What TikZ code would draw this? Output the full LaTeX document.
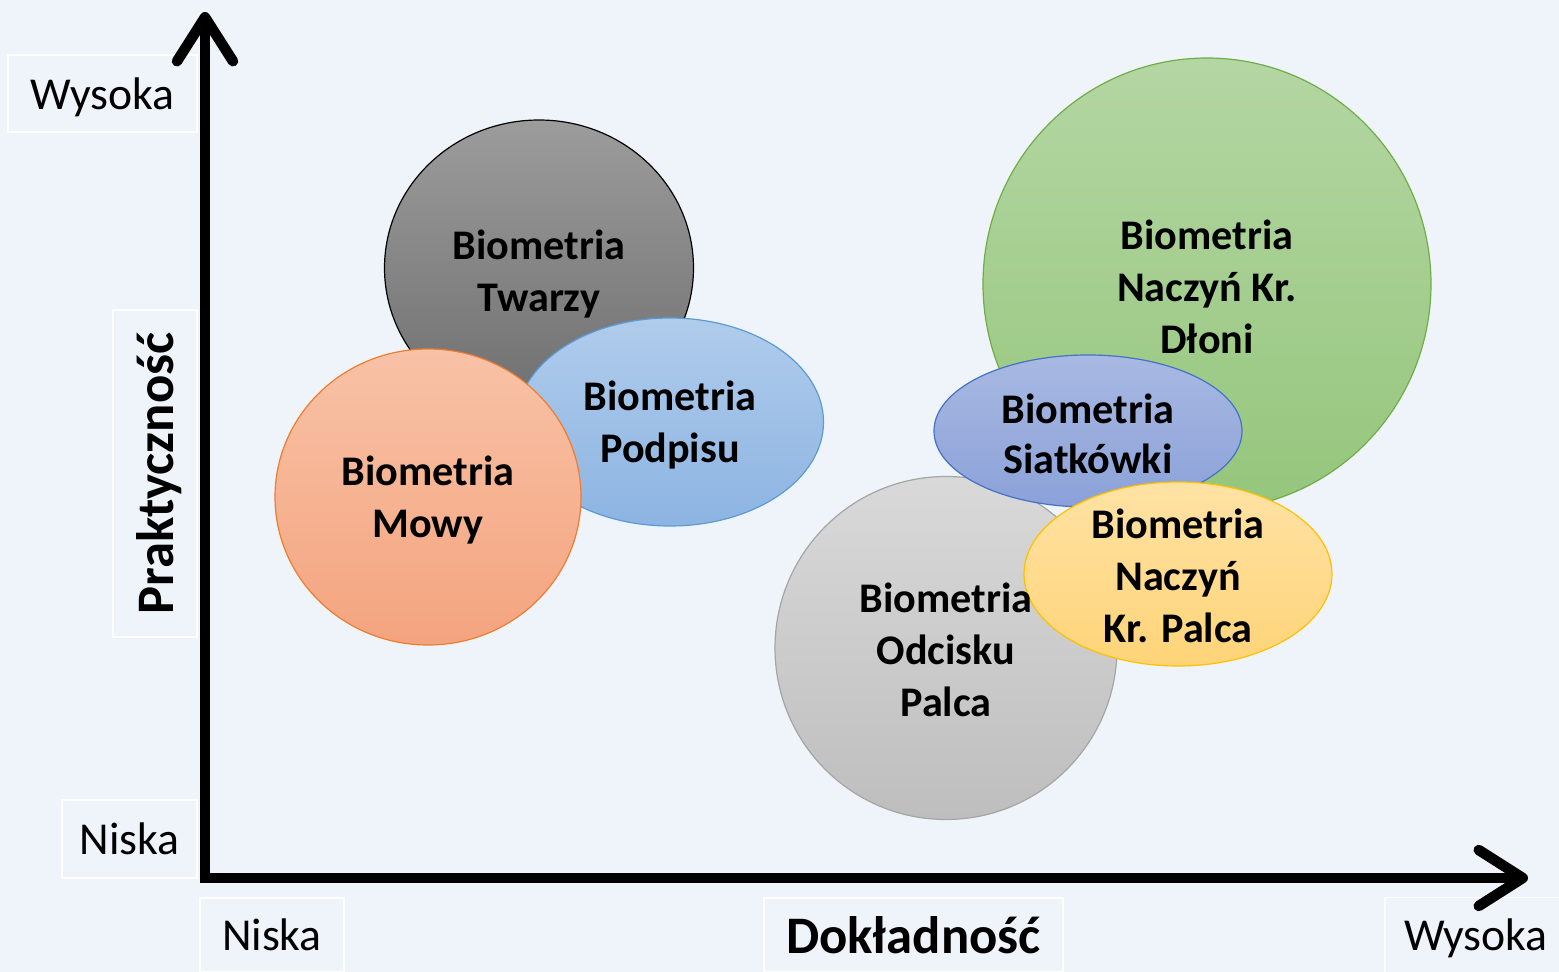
\documentclass[tikz,border=0pt]{standalone}
\usepackage{fontspec}
\setmainfont{Carlito}
\usetikzlibrary{arrows.meta,shapes.geometric}
\definecolor{canvas}{HTML}{EFF4FA}
\definecolor{faceTop}{HTML}{9C9C9C}
\definecolor{faceBot}{HTML}{6E6E6E}
\definecolor{signTop}{HTML}{B0CCEC}
\definecolor{signBot}{HTML}{8DB4E2}
\definecolor{signLine}{HTML}{5B9BD5}
\definecolor{voiceTop}{HTML}{F8C2A6}
\definecolor{voiceBot}{HTML}{F4A47F}
\definecolor{voiceLine}{HTML}{ED7D31}
\definecolor{palmTop}{HTML}{B4D6A3}
\definecolor{palmBot}{HTML}{95C67C}
\definecolor{palmLine}{HTML}{70AD47}
\definecolor{retinaTop}{HTML}{A8B9E2}
\definecolor{retinaBot}{HTML}{8BA1D8}
\definecolor{retinaLine}{HTML}{4472C4}
\definecolor{printTop}{HTML}{D9D9D9}
\definecolor{printBot}{HTML}{BEBEBE}
\definecolor{printLine}{HTML}{A5A5A5}
\definecolor{veinTop}{HTML}{FFE2A4}
\definecolor{veinBot}{HTML}{FFD478}
\definecolor{veinLine}{HTML}{FFC000}

\tikzset{
  blob/.style={ellipse, inner sep=0pt, line width=0.12mm},
  tag/.style={font=\bfseries\fontsize{12}{14.8}\selectfont, align=center},
  scalebox/.style={draw=white, line width=0.15mm, inner sep=0pt, text depth=0pt, font=\fontsize{13}{15}\selectfont},
  axis/.style={line width=1.05mm, -{Straight Barb[round, length=4.4mm, width=5.6mm]}}
}

\begin{document}
\begin{tikzpicture}[x=0.1mm, y=-0.1mm]
  \fill[canvas] (0,0) rectangle (1559,972);
  \useasboundingbox (0,0) rectangle (1559,972);

  % axis captions
  \node[scalebox, minimum width=18.9mm, minimum height=7.7mm] (yhigh) at (102.5,93.5) {Wysoka};
  \node[scalebox, minimum width=13.5mm, minimum height=7.8mm] (ylow) at (129.5,839) {Niska};
  \node[scalebox, minimum width=14.4mm, minimum height=7.4mm] (xlow) at (272,935) {Niska};
  \node[scalebox, minimum width=18.2mm, minimum height=7.5mm] (xhigh) at (1476,935) {Wysoka};
  \node[scalebox, minimum width=29.9mm, minimum height=7.4mm, font=\bfseries\fontsize{15}{18}\selectfont] (xname) at (913.5,935) {Dokładność};
  \node[scalebox, rotate=90, minimum width=32.7mm, minimum height=8.4mm, font=\bfseries\fontsize{15}{18}\selectfont] (yname) at (155,473.5) {Praktyczność};

  % bubbles
  \node[blob, draw=black, top color=faceTop, bottom color=faceBot, minimum width=30.9mm, minimum height=29.6mm] (twarzy) at (539,268) {};
  \node[blob, draw=signLine, top color=signTop, bottom color=signBot, minimum width=30.7mm, minimum height=20.8mm] (podpis) at (670,422) {};
  \node[blob, draw=voiceLine, top color=voiceTop, bottom color=voiceBot, minimum width=30.6mm, minimum height=29.6mm] (mowa) at (428,497) {};
  \node[blob, draw=palmLine, top color=palmTop, bottom color=palmBot, minimum width=44.8mm, minimum height=45.2mm] (dlon) at (1207,284) {};
  \node[blob, draw=printLine, top color=printTop, bottom color=printBot, minimum width=34.2mm, minimum height=34.3mm] (odcisk) at (946,648) {};
  \node[blob, draw=retinaLine, top color=retinaTop, bottom color=retinaBot, minimum width=30.8mm, minimum height=15.2mm] (siatkowka) at (1088,431) {};
  \node[blob, draw=veinLine, top color=veinTop, bottom color=veinBot, minimum width=30.8mm, minimum height=18.4mm] (palec) at (1178,574) {};

  % bubble texts
  \node[tag] (twarzyT) at (539,274) {Biometria\\Twarzy};
  \node[tag] (podpisT) at (670,425) {Biometria\\Podpisu};
  \node[tag] (mowaT) at (428,500) {Biometria\\Mowy};
  \node[tag] (dlonT) at (1207,287) {Biometria\\Naczyń Kr.\\Dłoni};
  \node[tag, font=\bfseries\fontsize{12}{14.2}\selectfont] (siatkowkaT) at (1088,434) {Biometria\\Siatkówki};
  \node[tag] (odciskT) at (946,650) {Biometria\\Odcisku\\Palca};
  \node[tag] (palecT) at (1178,576) {Biometria\\Naczyń\\Kr. Palca};

  % axes
  \coordinate (origin) at (205,878);
  \coordinate (ytip) at (205,12);
  \coordinate (xtip) at (1528,878);
  \draw[axis] ([yshift=-0.5mm]origin) -- (ytip);
  \draw[axis] ([xshift=-0.5mm]origin) -- (xtip);
\end{tikzpicture}
\end{document}
